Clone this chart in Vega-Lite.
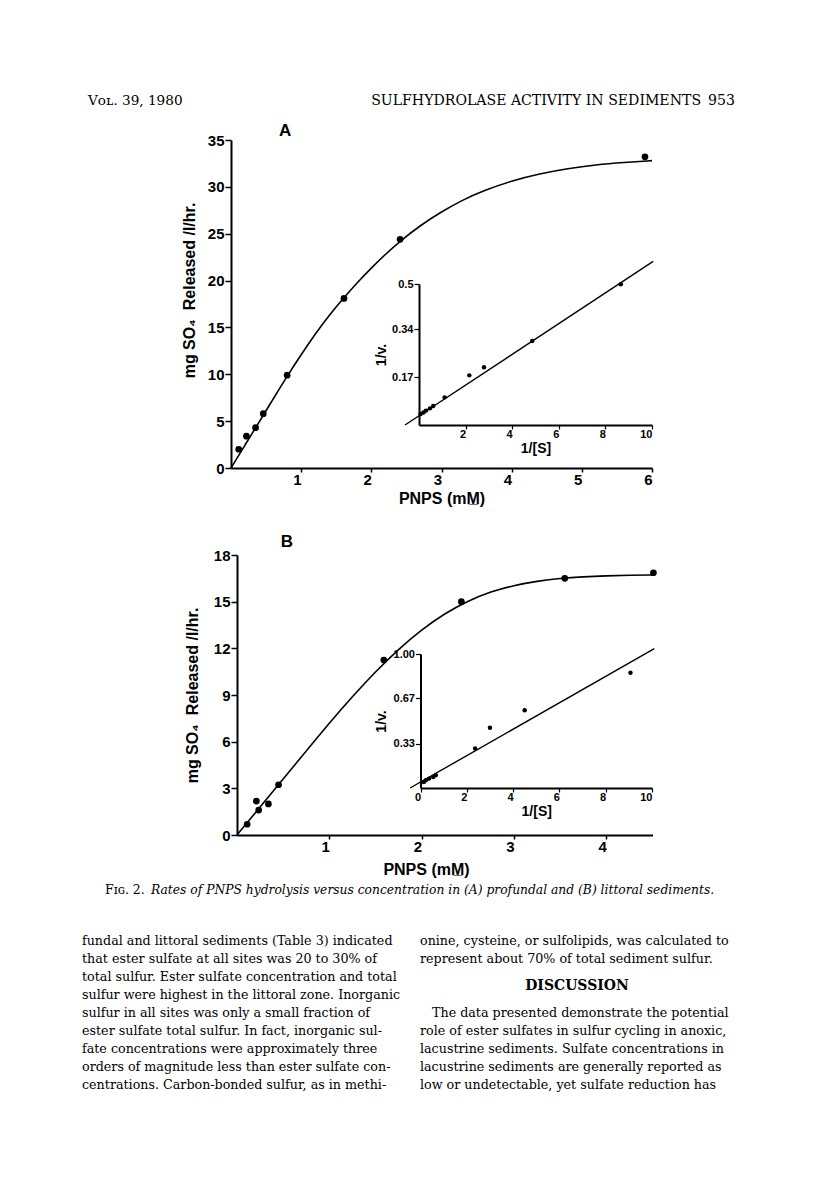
{
  "$schema": "https://vega.github.io/schema/vega-lite/v6.json",
  "width": 816,
  "height": 1197,
  "autosize": "none",
  "padding": 0,
  "background": "white",
  "config": {
    "view": {"stroke": null},
    "axis": {
      "grid": false,
      "domainColor": "black",
      "tickColor": "black",
      "labelColor": "black",
      "titleColor": "black",
      "labelFont": "Liberation Sans",
      "titleFont": "Liberation Sans",
      "labelFontWeight": "bold",
      "titleFontWeight": "bold",
      "labelOverlap": false,
      "labelFlush": false
    },
    "text": {"color": "black"}
  },
  "datasets": {
    "pointsA": [
      {"pnps": 0.11, "rate": 2.0}, {"pnps": 0.22, "rate": 3.4}, {"pnps": 0.35, "rate": 4.3},
      {"pnps": 0.46, "rate": 5.8}, {"pnps": 0.8, "rate": 9.9}, {"pnps": 1.61, "rate": 18.1},
      {"pnps": 2.41, "rate": 24.4}, {"pnps": 5.9, "rate": 33.2}
    ],
    "curveA": [
      {"pnps": 0, "rate": 0}, {"pnps": 0.2, "rate": 2.45}, {"pnps": 0.4, "rate": 4.9},
      {"pnps": 0.6, "rate": 7.35}, {"pnps": 0.8, "rate": 9.8}, {"pnps": 1.0, "rate": 12.1},
      {"pnps": 1.2, "rate": 14.3}, {"pnps": 1.4, "rate": 16.3}, {"pnps": 1.6, "rate": 18.1},
      {"pnps": 1.8, "rate": 19.8}, {"pnps": 2.0, "rate": 21.35}, {"pnps": 2.2, "rate": 22.8},
      {"pnps": 2.4, "rate": 24.15}, {"pnps": 2.7, "rate": 25.9}, {"pnps": 3.0, "rate": 27.35},
      {"pnps": 3.3, "rate": 28.6}, {"pnps": 3.6, "rate": 29.6}, {"pnps": 4.0, "rate": 30.65},
      {"pnps": 4.4, "rate": 31.4}, {"pnps": 4.8, "rate": 31.95}, {"pnps": 5.2, "rate": 32.35},
      {"pnps": 5.6, "rate": 32.6}, {"pnps": 6.0, "rate": 32.8}
    ],
    "insetPointsA": [
      {"inv_s": 0.07, "inv_v": 0.039}, {"inv_s": 0.19, "inv_v": 0.044}, {"inv_s": 0.3, "inv_v": 0.051},
      {"inv_s": 0.47, "inv_v": 0.059}, {"inv_s": 0.61, "inv_v": 0.067}, {"inv_s": 1.1, "inv_v": 0.098},
      {"inv_s": 2.16, "inv_v": 0.176}, {"inv_s": 2.79, "inv_v": 0.205}, {"inv_s": 4.86, "inv_v": 0.298},
      {"inv_s": 8.66, "inv_v": 0.499}
    ],
    "insetLineA": [
      {"inv_s": -0.6, "inv_v": 0.0}, {"inv_s": 10.05, "inv_v": 0.58}
    ],
    "pointsB": [
      {"pnps": 0.11, "rate": 0.69}, {"pnps": 0.21, "rate": 2.18}, {"pnps": 0.235, "rate": 1.6},
      {"pnps": 0.34, "rate": 2.0}, {"pnps": 0.45, "rate": 3.23}, {"pnps": 1.59, "rate": 11.25},
      {"pnps": 2.43, "rate": 15.0}, {"pnps": 3.55, "rate": 16.5}, {"pnps": 4.51, "rate": 16.86}
    ],
    "curveB": [
      {"pnps": 0, "rate": 0}, {"pnps": 0.25, "rate": 1.8}, {"pnps": 0.5, "rate": 3.6},
      {"pnps": 0.75, "rate": 5.4}, {"pnps": 1.0, "rate": 7.2}, {"pnps": 1.25, "rate": 8.9},
      {"pnps": 1.5, "rate": 10.5}, {"pnps": 1.75, "rate": 11.95}, {"pnps": 2.0, "rate": 13.2},
      {"pnps": 2.25, "rate": 14.25}, {"pnps": 2.5, "rate": 15.05}, {"pnps": 2.75, "rate": 15.65},
      {"pnps": 3.0, "rate": 16.05}, {"pnps": 3.25, "rate": 16.32}, {"pnps": 3.5, "rate": 16.5},
      {"pnps": 3.75, "rate": 16.6}, {"pnps": 4.0, "rate": 16.66}, {"pnps": 4.25, "rate": 16.7},
      {"pnps": 4.51, "rate": 16.72}
    ],
    "insetPointsB": [
      {"inv_s": 0.14, "inv_v": 0.045}, {"inv_s": 0.23, "inv_v": 0.058}, {"inv_s": 0.37, "inv_v": 0.07},
      {"inv_s": 0.55, "inv_v": 0.082}, {"inv_s": 0.66, "inv_v": 0.095}, {"inv_s": 2.36, "inv_v": 0.294},
      {"inv_s": 3.0, "inv_v": 0.45}, {"inv_s": 4.5, "inv_v": 0.58}, {"inv_s": 9.07, "inv_v": 0.86}
    ],
    "insetLineB": [
      {"inv_s": -0.45, "inv_v": 0.0}, {"inv_s": 10.1, "inv_v": 1.04}
    ],
    "header": [
      {"side": "verso", "line": 1, "text": "Vᴏʟ. 39, 1980"},
      {"side": "recto", "line": 1, "text": "SULFHYDROLASE ACTIVITY IN SEDIMENTS\u2002953"}
    ],
    "caption": [
      {"part": "label", "line": 1, "text": "Fɪɢ. 2."},
      {"part": "legend", "line": 1, "text": "Rates of PNPS hydrolysis versus concentration in (A) profundal and (B) littoral sediments."}
    ],
    "body": [
      {"col": "left", "line": 1, "kind": "text", "text": "fundal and littoral sediments (Table 3) indicated"},
      {"col": "left", "line": 2, "kind": "text", "text": "that ester sulfate at all sites was 20 to 30% of"},
      {"col": "left", "line": 3, "kind": "text", "text": "total sulfur. Ester sulfate concentration and total"},
      {"col": "left", "line": 4, "kind": "text", "text": "sulfur were highest in the littoral zone. Inorganic"},
      {"col": "left", "line": 5, "kind": "text", "text": "sulfur in all sites was only a small fraction of"},
      {"col": "left", "line": 6, "kind": "text", "text": "ester sulfate total sulfur. In fact, inorganic sul-"},
      {"col": "left", "line": 7, "kind": "text", "text": "fate concentrations were approximately three"},
      {"col": "left", "line": 8, "kind": "text", "text": "orders of magnitude less than ester sulfate con-"},
      {"col": "left", "line": 9, "kind": "text", "text": "centrations. Carbon-bonded sulfur, as in methi-"},
      {"col": "right", "line": 1, "kind": "text", "text": "onine, cysteine, or sulfolipids, was calculated to"},
      {"col": "right", "line": 2, "kind": "text", "text": "represent about 70% of total sediment sulfur."},
      {"col": "right", "line": 3.5, "kind": "heading", "text": "DISCUSSION"},
      {"col": "right", "line": 5, "kind": "first", "text": "The data presented demonstrate the potential"},
      {"col": "right", "line": 6, "kind": "text", "text": "role of ester sulfates in sulfur cycling in anoxic,"},
      {"col": "right", "line": 7, "kind": "text", "text": "lacustrine sediments. Sulfate concentrations in"},
      {"col": "right", "line": 8, "kind": "text", "text": "lacustrine sediments are generally reported as"},
      {"col": "right", "line": 9, "kind": "text", "text": "low or undetectable, yet sulfate reduction has"}
    ]
  },
  "resolve": {
    "scale": {"x": "independent", "y": "independent"},
    "axis": {"x": "independent", "y": "independent"}
  },
  "layer": [
    {
      "layer": [
        {
          "data": {"name": "curveA"},
          "mark": {"type": "line", "color": "black", "strokeWidth": 1.6, "interpolate": "basis"},
          "encoding": {
            "x": {"field": "pnps", "type": "quantitative", "title": "PNPS (mM̲)",
              "scale": {"domain": [0, 6], "range": [231, 652], "nice": false, "zero": false},
              "axis": {"orient": "bottom", "offset": -729, "values": [1, 2, 3, 4, 5, 6], "format": "d",
                "domainWidth": 2, "tickWidth": 1.5, "tickSize": 4, "labelFontSize": 15,
                "labelAlign": "right", "labelPadding": 0, "titleFontSize": 16, "titlePadding": 3}},
            "y": {"field": "rate", "type": "quantitative", "title": "mg SO₄\u00a0\u00a0Released /l/hr.",
              "scale": {"domain": [0, 35], "range": [468, 140], "nice": false, "zero": false},
              "axis": {"orient": "left", "offset": -231, "values": [0, 5, 10, 15, 20, 25, 30, 35], "format": "d",
                "domainWidth": 2, "tickWidth": 1.5, "tickSize": 6, "labelFontSize": 15,
                "labelPadding": 1, "titleFontSize": 16, "titlePadding": 10, "titleY": 290}}
          }
        },
        {
          "data": {"name": "pointsA"},
          "mark": {"type": "circle", "color": "black", "opacity": 1, "size": 45},
          "encoding": {
            "x": {"field": "pnps", "type": "quantitative", "title": "PNPS (mM̲)"},
            "y": {"field": "rate", "type": "quantitative", "title": "mg SO₄\u00a0\u00a0Released /l/hr."}
          }
        },
        {
          "data": {"values": [{"panel": "A"}]},
          "mark": {"type": "text", "font": "Liberation Sans", "fontWeight": "bold", "fontSize": 17, "align": "center", "baseline": "middle"},
          "encoding": {
            "x": {"datum": 0.77, "type": "quantitative", "title": "PNPS (mM̲)"},
            "y": {"datum": 36.0, "type": "quantitative", "title": "mg SO₄\u00a0\u00a0Released /l/hr."},
            "text": {"field": "panel"}
          }
        }
      ]
    },
    {
      "layer": [
        {
          "data": {"name": "insetLineA"},
          "mark": {"type": "line", "color": "black", "strokeWidth": 1.4},
          "encoding": {
            "x": {"field": "inv_s", "type": "quantitative", "title": "1/[S]",
              "scale": {"domain": [0, 10], "range": [419, 652], "nice": false, "zero": false},
              "axis": {"orient": "bottom", "offset": -772, "values": [2, 4, 6, 8, 10], "format": "d",
                "domainWidth": 2, "tickWidth": 1.2, "tickSize": 4, "labelFontSize": 11,
                "labelAlign": "right", "labelPadding": -1, "titleFontSize": 14, "titlePadding": 2}},
            "y": {"field": "inv_v", "type": "quantitative", "title": "1/v.",
              "scale": {"domain": [0, 0.5], "range": [425, 284], "nice": false, "zero": false},
              "axis": {"orient": "left", "offset": -419, "values": [0.17, 0.34, 0.5], "format": ".2~f",
                "domainWidth": 2, "tickWidth": 1.2, "tickSize": 5, "labelFontSize": 11,
                "labelPadding": 1, "titleFontSize": 14, "titlePadding": 3}}
          }
        },
        {
          "data": {"name": "insetPointsA"},
          "mark": {"type": "circle", "color": "black", "opacity": 1, "size": 20},
          "encoding": {
            "x": {"field": "inv_s", "type": "quantitative", "title": "1/[S]"},
            "y": {"field": "inv_v", "type": "quantitative", "title": "1/v."}
          }
        }
      ]
    },
    {
      "layer": [
        {
          "data": {"name": "curveB"},
          "mark": {"type": "line", "color": "black", "strokeWidth": 1.6, "interpolate": "basis"},
          "encoding": {
            "x": {"field": "pnps", "type": "quantitative", "title": "PNPS (mM̲)",
              "scale": {"domain": [0, 4.5], "range": [237, 652.5], "nice": false, "zero": false},
              "axis": {"orient": "bottom", "offset": -362, "values": [1, 2, 3, 4], "format": "d",
                "domainWidth": 2, "tickWidth": 1.5, "tickSize": 4, "labelFontSize": 15,
                "labelAlign": "right", "labelPadding": 0, "titleFontSize": 16, "titlePadding": 7, "titleX": 426}},
            "y": {"field": "rate", "type": "quantitative", "title": "mg SO₄\u00a0\u00a0Released /l/hr.",
              "scale": {"domain": [0, 18], "range": [835, 555], "nice": false, "zero": false},
              "axis": {"orient": "left", "offset": -237, "values": [0, 3, 6, 9, 12, 15, 18], "format": "d",
                "domainWidth": 2, "tickWidth": 1.5, "tickSize": 6, "labelFontSize": 15,
                "labelPadding": 1, "titleFontSize": 16, "titlePadding": 13}}
          }
        },
        {
          "data": {"name": "pointsB"},
          "mark": {"type": "circle", "color": "black", "opacity": 1, "size": 45},
          "encoding": {
            "x": {"field": "pnps", "type": "quantitative", "title": "PNPS (mM̲)"},
            "y": {"field": "rate", "type": "quantitative", "title": "mg SO₄\u00a0\u00a0Released /l/hr."}
          }
        },
        {
          "data": {"values": [{"panel": "B"}]},
          "mark": {"type": "text", "font": "Liberation Sans", "fontWeight": "bold", "fontSize": 17, "align": "center", "baseline": "middle"},
          "encoding": {
            "x": {"datum": 0.54, "type": "quantitative", "title": "PNPS (mM̲)"},
            "y": {"datum": 18.83, "type": "quantitative", "title": "mg SO₄\u00a0\u00a0Released /l/hr."},
            "text": {"field": "panel"}
          }
        }
      ]
    },
    {
      "layer": [
        {
          "data": {"name": "insetLineB"},
          "mark": {"type": "line", "color": "black", "strokeWidth": 1.4},
          "encoding": {
            "x": {"field": "inv_s", "type": "quantitative", "title": "1/[S]",
              "scale": {"domain": [0, 10], "range": [420.5, 652], "nice": false, "zero": false},
              "axis": {"orient": "bottom", "offset": -409, "values": [0, 2, 4, 6, 8, 10], "format": "d",
                "domainWidth": 2, "tickWidth": 1.2, "tickSize": 4, "labelFontSize": 11,
                "labelAlign": "right", "labelPadding": -1, "titleFontSize": 14, "titlePadding": 2}},
            "y": {"field": "inv_v", "type": "quantitative", "title": "1/v.",
              "scale": {"domain": [0, 1], "range": [788, 654], "nice": false, "zero": false},
              "axis": {"orient": "left", "offset": -420.5, "values": [0.33, 0.67, 1.0], "format": ".2f",
                "domainWidth": 2, "tickWidth": 1.2, "tickSize": 5, "labelFontSize": 11,
                "labelPadding": 1, "titleFontSize": 14, "titlePadding": 5}}
          }
        },
        {
          "data": {"name": "insetPointsB"},
          "mark": {"type": "circle", "color": "black", "opacity": 1, "size": 20},
          "encoding": {
            "x": {"field": "inv_s", "type": "quantitative", "title": "1/[S]"},
            "y": {"field": "inv_v", "type": "quantitative", "title": "1/v."}
          }
        }
      ]
    },
    {
      "data": {"name": "header"},
      "encoding": {
        "x": {"field": "side", "type": "nominal", "axis": null,
          "scale": {"type": "point", "domain": ["verso", "recto"], "range": [88, 735], "padding": 0}},
        "y": {"field": "line", "type": "quantitative", "axis": null,
          "scale": {"domain": [1, 2], "range": [101, 119], "nice": false, "zero": false}},
        "text": {"field": "text"}
      },
      "layer": [
        {
          "transform": [{"filter": "datum.side === 'verso'"}],
          "mark": {"type": "text", "font": "DejaVu Serif", "fontSize": 13.6, "align": "left", "baseline": "middle"}
        },
        {
          "transform": [{"filter": "datum.side === 'recto'"}],
          "mark": {"type": "text", "font": "DejaVu Serif", "fontSize": 14.1, "align": "right", "baseline": "middle"}
        }
      ]
    },
    {
      "data": {"name": "caption"},
      "encoding": {
        "x": {"field": "part", "type": "nominal", "axis": null,
          "scale": {"type": "point", "domain": ["label", "legend"], "range": [105, 151], "padding": 0}},
        "y": {"field": "line", "type": "quantitative", "axis": null,
          "scale": {"domain": [1, 2], "range": [890, 908], "nice": false, "zero": false}},
        "text": {"field": "text"}
      },
      "layer": [
        {
          "transform": [{"filter": "datum.part === 'label'"}],
          "mark": {"type": "text", "font": "DejaVu Serif", "fontSize": 12.5, "align": "left", "baseline": "middle"}
        },
        {
          "transform": [{"filter": "datum.part === 'legend'"}],
          "mark": {"type": "text", "font": "DejaVu Serif", "fontStyle": "italic", "fontSize": 12.3, "align": "left", "baseline": "middle"}
        }
      ]
    },
    {
      "data": {"name": "body"},
      "encoding": {
        "x": {"field": "col", "type": "nominal", "axis": null,
          "scale": {"type": "point", "domain": ["left", "right"], "range": [82, 420], "padding": 0}},
        "y": {"field": "line", "type": "quantitative", "axis": null,
          "scale": {"domain": [1, 9], "range": [941, 1085], "nice": false, "zero": false}},
        "text": {"field": "text"}
      },
      "layer": [
        {
          "transform": [{"filter": "datum.kind === 'text'"}],
          "mark": {"type": "text", "font": "DejaVu Serif", "fontSize": 12.7, "align": "left", "baseline": "middle"}
        },
        {
          "transform": [{"filter": "datum.kind === 'first'"}],
          "mark": {"type": "text", "font": "DejaVu Serif", "fontSize": 12.7, "align": "left", "baseline": "middle", "dx": 12}
        },
        {
          "transform": [{"filter": "datum.kind === 'heading'"}],
          "mark": {"type": "text", "font": "DejaVu Serif", "fontWeight": "bold", "fontSize": 14, "align": "center", "baseline": "middle", "dx": 157}
        }
      ]
    }
  ]
}
